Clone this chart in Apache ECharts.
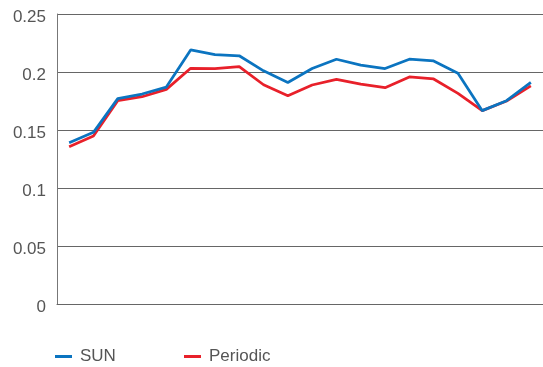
<!DOCTYPE html>
<html>
<head>
<meta charset="utf-8">
<script src="https://cdn.jsdelivr.net/npm/echarts@6/dist/echarts.min.js"></script>
<style>html,body{margin:0;padding:0;background:#fff}#c{width:543px;height:367px}</style>
</head>
<body>
<div id="c"></div>
<script>
const categories = ["1","2","3","4","5","6","7","8","9","10","11","12","13","14","15","16","17","18","19","20"];
const sunValues = [0.139,0.148,0.177,0.181,0.187,0.219,0.215,0.214,0.201,0.191,0.203,0.211,0.206,0.203,0.211,0.2095,0.199,0.1667,0.1753,0.191];
const periodicValues = [0.1356,0.1448,0.1753,0.1787,0.185,0.2032,0.203,0.2046,0.189,0.1796,0.1888,0.1937,0.1895,0.1865,0.1957,0.194,0.1816,0.1667,0.175,0.188];
const seriesNames = ["SUN","Periodic"];
const yTicks = [0,0.05,0.1,0.15,0.2,0.25];

const chart = echarts.init(document.getElementById('c'), null, {renderer:'canvas'});
const font = {fontFamily:'Liberation Sans, Arial, sans-serif', fontSize:17, color:'#555'};
const legendFont = {fontFamily:'Liberation Sans, Arial, sans-serif', fontSize:17, color:'#555', padding:[0,0,0,3]};
chart.setOption({
  animation:false,
  grid:{left:57, right:0, top:14, bottom:63},
  legend:[
    {data:[seriesNames[0]], left:55, top:348, padding:0, itemWidth:17, itemHeight:3, icon:'rect', textStyle:legendFont},
    {data:[seriesNames[1]], left:184, top:348, padding:0, itemWidth:17, itemHeight:3, icon:'rect', textStyle:legendFont}
  ],
  xAxis:{type:'category', data:categories, boundaryGap:true,
    axisLine:{show:true, lineStyle:{color:'#666', width:1}},
    axisTick:{show:false}, axisLabel:{show:false}, splitLine:{show:false}},
  yAxis:{type:'value', min:yTicks[0], max:yTicks[yTicks.length-1], interval:0.05,
    axisLine:{show:true, lineStyle:{color:'#777', width:1}},
    axisTick:{show:false},
    axisLabel:Object.assign({margin:11, verticalAlign:'top', lineHeight:6}, font),
    splitLine:{show:true, lineStyle:{color:'#666', width:1}}},
  series:[
    {name:seriesNames[0], type:'line', data:sunValues, symbol:'none', lineStyle:{color:'#0b74c0', width:2.75}, itemStyle:{color:'#0b74c0'}},
    {name:seriesNames[1], type:'line', data:periodicValues, symbol:'none', lineStyle:{color:'#e8202a', width:2.75}, itemStyle:{color:'#e8202a'}, z:1}
  ]
});
</script>
</body>
</html>
